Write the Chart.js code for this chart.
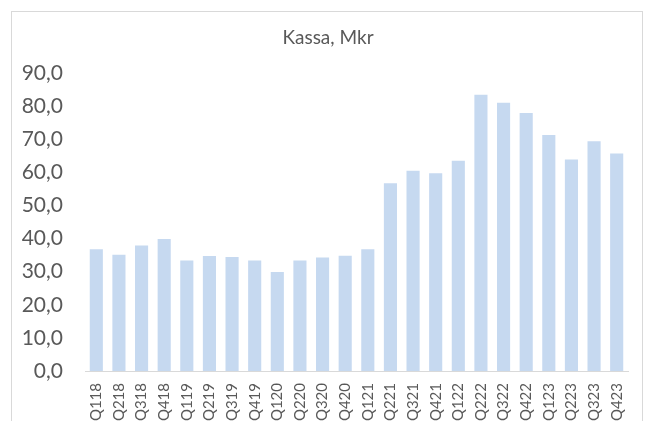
<!DOCTYPE html>
<html>
<head>
<meta charset="utf-8">
<script src="https://cdn.jsdelivr.net/npm/chart.js@4/dist/chart.umd.min.js"></script>
<style>
  html, body { margin: 0; padding: 0; background: #fff; overflow: hidden; }
  #frame { position: absolute; left: 11px; top: 11px; width: 632px; height: 430px; border: 1px solid #d9d9d9; box-sizing: border-box; }
  #wrap { position: absolute; left: 0; top: 0; width: 651px; height: 421px; }
</style>
</head>
<body>
<div id="frame"></div>
<div id="wrap"><canvas id="c" width="651" height="421"></canvas></div>
<script>
const categories = ["Q118","Q218","Q318","Q418","Q119","Q219","Q319","Q419","Q120","Q220","Q320","Q420","Q121","Q221","Q321","Q421","Q122","Q222","Q322","Q422","Q123","Q223","Q323","Q423"];
const kassa = [36.8, 35.1, 37.9, 39.9, 33.4, 34.7, 34.4, 33.4, 29.9, 33.4, 34.3, 34.8, 36.8, 56.7, 60.5, 59.7, 63.5, 83.4, 81.0, 77.9, 71.3, 63.9, 69.4, 65.7];
const yTicks = [0, 10, 20, 30, 40, 50, 60, 70, 80, 90];
const titleText = "Kassa, Mkr";

const titlePlugin = {
  id: 'centerTitle',
  afterDraw(chart) {
    const ctx = chart.ctx;
    ctx.save();
    ctx.font = 'normal 19px Lato';
    ctx.fillStyle = '#595959';
    ctx.textAlign = 'center';
    ctx.textBaseline = 'middle';
    ctx.fillText(titleText, 328, 38);
    ctx.restore();
  }
};

new Chart(document.getElementById('c'), {
  type: 'bar',
  data: {
    labels: categories,
    datasets: [{
      label: titleText,
      data: kassa,
      backgroundColor: '#c6d9f0',
      borderWidth: 0,
      categoryPercentage: 1.0,
      barPercentage: 0.58
    }]
  },
  plugins: [titlePlugin],
  options: {
    responsive: false,
    animation: false,
    layout: { padding: { left: 0, right: 23, top: 73, bottom: 0 } },
    plugins: {
      legend: { display: false },
      tooltip: { enabled: false },
      title: { display: false }
    },
    scales: {
      x: {
        grid: { display: true, drawOnChartArea: false, drawTicks: false },
        border: { display: true, color: '#d9d9d9', width: 1 },
        ticks: {
          color: '#595959',
          font: { family: 'Lato', size: 15 },
          minRotation: 90,
          maxRotation: 90,
          autoSkip: false,
          padding: 12
        },
        afterFit: (s) => { s.height = 50; }
      },
      y: {
        min: 0,
        max: 90,
        afterBuildTicks: (s) => { s.ticks = yTicks.map(v => ({ value: v })); },
        grid: { display: false },
        border: { display: false },
        ticks: {
          color: '#595959',
          font: { family: 'Lato', size: 21 },
          padding: 14,
          callback: (v) => Number(v).toFixed(1).replace('.', ',')
        },
        afterFit: (s) => { s.width = 85; }
      }
    }
  }
});
</script>
</body>
</html>
